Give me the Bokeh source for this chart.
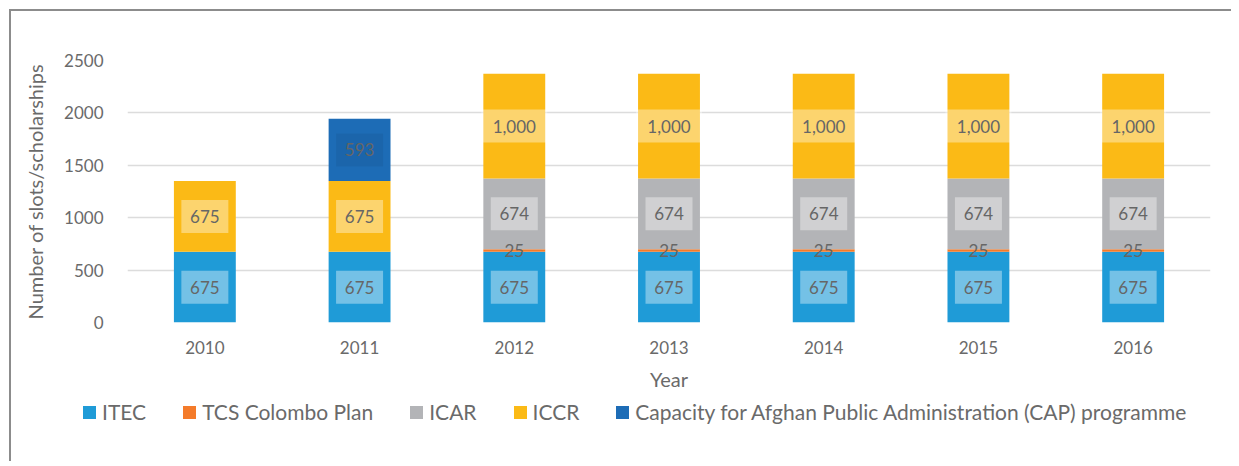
from bokeh.plotting import figure
from bokeh.layouts import column
from bokeh.models import (ColumnDataSource, FixedTicker, Range1d, FactorRange, Div)
from bokeh.core.properties import value
from bokeh.embed import file_html
from bokeh.resources import INLINE

years = ["2010", "2011", "2012", "2013", "2014", "2015", "2016"]
itec = [675, 675, 675, 675, 675, 675, 675]
tcs = [0, 0, 25, 25, 25, 25, 25]
icar = [0, 0, 674, 674, 674, 674, 674]
iccr = [675, 675, 1000, 1000, 1000, 1000, 1000]
cap = [0, 593, 0, 0, 0, 0, 0]

series_names = ["ITEC", "TCS Colombo Plan", "ICAR", "ICCR",
                "Capacity for Afghan Public Administration (CAP) programme"]
series_keys = ["itec", "tcs", "icar", "iccr", "cap"]
series_vals = [itec, tcs, icar, iccr, cap]
colors = ["#1f9bd7", "#f47b2a", "#b3b4b7", "#fbba16", "#1d6cb6"]
y_ticks = [0, 500, 1000, 1500, 2000, 2500]

FONT = "Lato"
TXT = "#6a6a6a"

src = ColumnDataSource(dict(years=years, itec=itec, tcs=tcs, icar=icar,
                            iccr=iccr, cap=cap))

p = figure(x_range=FactorRange(*years), y_range=Range1d(0, 2500),
           width=1220, height=389, output_backend="svg", toolbar_location=None,
           min_border_left=116, min_border_right=21, min_border_top=49,
           min_border_bottom=78)
p.outline_line_color = None

rs = p.vbar_stack(series_keys, x="years", width=0.4, color=colors,
                  line_color=None, source=src)

# labels
lx, ly, lt, bw, bc, ba = [], [], [], [], [], []
for i, yr in enumerate(years):
    base = 0
    for k, vals in enumerate(series_vals):
        v = vals[i]
        if v > 0:
            mid = base + v / 2
            txt = f"{v:,}"
            lx.append(yr); ly.append(mid); lt.append(txt)
            if v < 100:
                bw.append(0); bc.append("#ffffff"); ba.append(0.0)
            elif k == 4:
                bw.append(47); bc.append("#000000"); ba.append(0.06)
            else:
                bw.append(47 if len(txt) <= 3 else 66); bc.append("#ffffff"); ba.append(0.38)
        base += v

lsrc = ColumnDataSource(dict(x=lx, y=ly, t=lt, w=bw, c=bc, a=ba))
p.rect(x="x", y="y", width="w", height=33, width_units="screen",
       height_units="screen", fill_color="c", fill_alpha="a", line_color=None,
       source=lsrc)
p.text(x="x", y="y", text="t", source=lsrc, text_align="center",
       text_baseline="middle", text_font=value(FONT), text_font_size="17px",
       text_color="#666666")

p.xgrid.grid_line_color = None
p.ygrid.grid_line_color = "#dcdcdc"
p.ygrid.grid_line_width = 1.5
p.yaxis.ticker = FixedTicker(ticks=y_ticks)

for ax in (p.xaxis[0], p.yaxis[0]):
    ax.axis_line_color = None
    ax.major_tick_line_color = None
    ax.minor_tick_line_color = None
    ax.major_tick_out = 0
    ax.major_tick_in = 0
    ax.major_label_text_font = FONT
    ax.major_label_text_font_size = "17px"
    ax.major_label_text_color = TXT
    ax.axis_label_text_font = FONT
    ax.axis_label_text_font_size = "20px"
    ax.axis_label_text_font_style = "normal"
    ax.axis_label_text_color = TXT

p.yaxis.axis_label = "Number of slots/scholarships"
p.yaxis.major_label_standoff = 24
p.yaxis.axis_label_standoff = 14
p.xaxis.axis_label = "Year"
p.xaxis.major_label_standoff = 18
p.xaxis.axis_label_standoff = 10

# legend strip (HTML, real text)
item_html = "".join(
    f'<span style="display:inline-flex;align-items:center;margin-right:37px">'
    f'<span style="display:inline-block;width:13px;height:13px;background:{c};'
    f'margin-right:6px"></span>{n}</span>'
    for n, c in zip(series_names, colors))
legend_div = Div(
    text=f'<div style="display:flex;align-items:center;white-space:nowrap;'
         f'font-family:Lato;font-size:21px;color:{TXT};height:24px;'
         f'padding-left:72px">{item_html}</div>',
    width=1220, height=61, margin=0)

layout = column(p, legend_div, spacing=0,
                styles={"margin-left": "9px", "margin-top": "9px",
                        "border-top": "2px solid #8c8c8c",
                        "border-left": "2px solid #8c8c8c"})

open("out.html", "w").write(file_html(layout, INLINE))
